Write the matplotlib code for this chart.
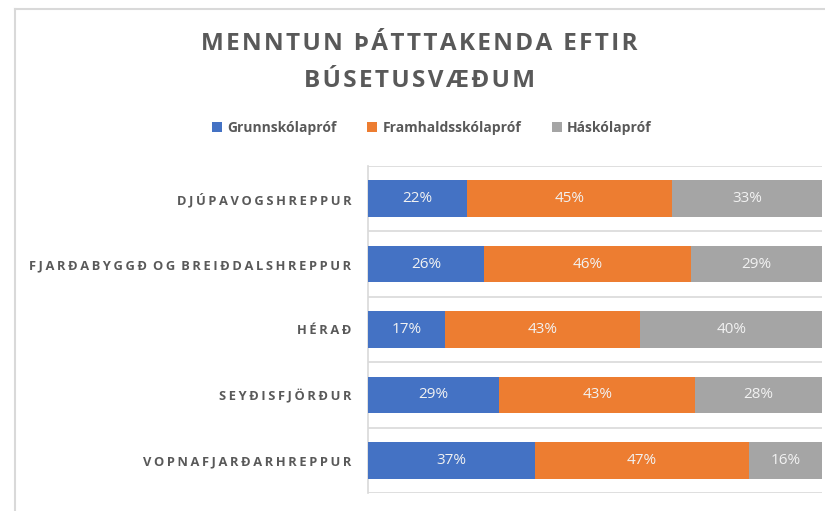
import matplotlib
matplotlib.use("Agg")
import matplotlib.pyplot as plt
from matplotlib.lines import Line2D
import numpy as np

categories = ["DJÚPAVOGSHREPPUR", "FJARÐABYGGÐ OG BREIÐDALSHREPPUR", "HÉRAÐ",
              "SEYÐISFJÖRÐUR", "VOPNAFJARÐARHREPPUR"]
series_names = ["Grunnskólapróf", "Framhaldsskólapróf", "Háskólapróf"]
grunn = [21.8, 25.6, 17.0, 28.9, 36.8]
framhald = [45.2, 45.6, 43.0, 43.2, 47.1]
haskoli = [33.0, 28.8, 40.0, 27.9, 16.1]
colors = ["#4472C4", "#ED7D31", "#A5A5A5"]
title_lines = ["MENNTUN ÞÁTTTAKENDA EFTIR", "BÚSETUSVÆÐUM"]

FAM = ["Open Sans", "DejaVu Sans"]
plt.rcParams['font.family'] = FAM
TXT = "#595959"


def spaced(s, sp="\u200a", wsep=" "):
    return wsep.join(sp.join(list(w)) for w in s.split(" "))


fig = plt.figure(figsize=(8.25, 5.11), dpi=100)
fig.patch.set_facecolor("white")
W, H = 825, 511
ax = fig.add_axes([368 / W, (H - 493) / H, (822 - 368) / W, (493 - 166) / H])

y = np.arange(len(categories))
left = np.zeros(len(categories))
series = [grunn, framhald, haskoli]
bh = 0.56
for vals, name, c in zip(series, series_names, colors):
    vals = np.array(vals)
    ax.barh(y, vals, left=left, height=bh, color=c, label=name, zorder=3)
    for yi, l, v in zip(y, left, vals):
        ax.text(l + v / 2, yi, f"{round(v):d}%", ha="center", va="center",
                color="#F2F2F2", fontsize=11, zorder=4)
    left = left + vals

ax.set_xlim(0, 100)
ax.set_ylim(len(categories) - 0.5, -0.5)
ax.set_xticks([])
ax.set_yticks(y)
ax.set_yticklabels([spaced(c, "\u2009", "\u2009 ") for c in categories], fontsize=9.3,
                   fontweight="bold", color=TXT)
ax.tick_params(axis="y", length=0, pad=12)
ax.set_yticks(np.arange(-0.5, len(categories)), minor=True)
ax.grid(which="minor", axis="y", color="#D9D9D9", linewidth=1.2, zorder=0)
ax.tick_params(which="minor", length=0)
for s in ["top", "right", "bottom"]:
    ax.spines[s].set_visible(False)
ax.spines["left"].set_color("#D9D9D9")
ax.spines["left"].set_linewidth(1.2)

# title
fig.text(419 / W, 1 - 44 / H, spaced(title_lines[0], "\u200a", "\u200a \u200a"),
         ha="center", va="center", fontsize=17.5, fontweight="bold", color=TXT)
fig.text(419 / W, 1 - 81 / H, spaced(title_lines[1]), ha="center", va="center",
         fontsize=17.5, fontweight="bold", color=TXT)

# legend
leg = fig.legend(loc="center", bbox_to_anchor=(432 / W, 1 - 128 / H), ncol=3,
                 frameon=False, handlelength=0.7, handleheight=0.7,
                 handletextpad=0.4, columnspacing=2.2,
                 prop={"size": 10, "weight": "bold"})
for t in leg.get_texts():
    t.set_color(TXT)

# chart frame border
fig.add_artist(Line2D([15 / W, 15 / W], [0, 1 - 9 / H], color="#D9D9D9", lw=1.5,
                      transform=fig.transFigure))
fig.add_artist(Line2D([15 / W, 1], [1 - 9 / H, 1 - 9 / H], color="#D9D9D9", lw=1.5,
                      transform=fig.transFigure))

fig.savefig("out.png", dpi=100, facecolor="white")
